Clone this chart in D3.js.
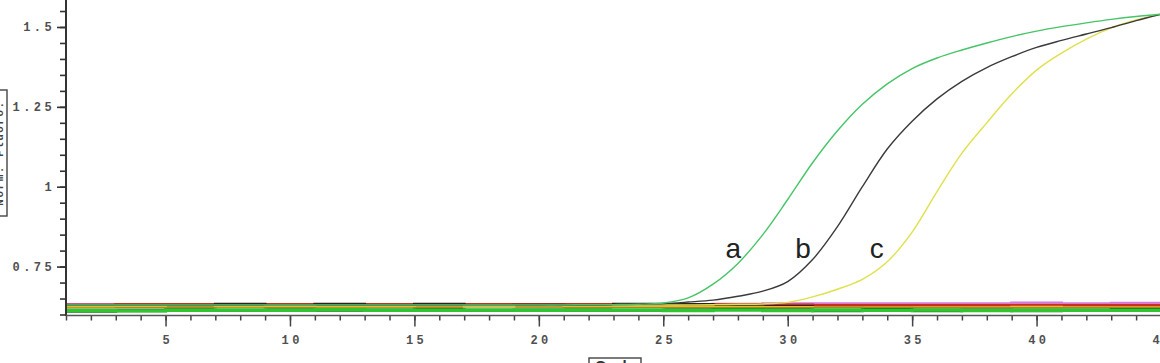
<!DOCTYPE html>
<html>
<head>
<meta charset="utf-8">
<script src="https://cdn.jsdelivr.net/npm/d3@7"></script>
<style>
  html, body { margin: 0; padding: 0; background: #fff; overflow: hidden; }
  svg { display: block; }
</style>
</head>
<body>
<svg id="chart" width="1160" height="363"></svg>
<script>
// ---- Data ----
const cycles = [1,2,3,4,5,6,7,8,9,10,11,12,13,14,15,16,17,18,19,20,21,22,23,24,25,26,27,28,29,30,31,32,33,34,35,36,37,38,39,40,41,42,43,44,45];

// amplification curves (normalised fluorescence per cycle)
const curveA = [0.630,0.630,0.630,0.630,0.630,0.630,0.630,0.630,0.630,0.630,0.630,0.630,0.630,0.630,0.630,0.630,0.630,0.630,0.630,0.630,0.630,0.631,0.631,0.632,0.636,0.652,0.695,0.760,0.850,0.960,1.075,1.175,1.258,1.322,1.370,1.403,1.428,1.450,1.470,1.487,1.501,1.513,1.524,1.533,1.540];
const curveB = [0.630,0.630,0.630,0.630,0.630,0.630,0.630,0.630,0.630,0.630,0.630,0.630,0.630,0.630,0.630,0.630,0.630,0.630,0.630,0.630,0.630,0.630,0.631,0.632,0.634,0.639,0.645,0.657,0.673,0.703,0.772,0.875,1.000,1.118,1.205,1.275,1.330,1.373,1.407,1.436,1.458,1.478,1.498,1.520,1.540];
const curveC = [0.630,0.630,0.630,0.630,0.630,0.630,0.630,0.630,0.630,0.630,0.630,0.630,0.630,0.630,0.630,0.630,0.630,0.630,0.630,0.630,0.630,0.630,0.630,0.630,0.630,0.630,0.631,0.632,0.633,0.638,0.655,0.679,0.710,0.765,0.858,0.985,1.105,1.200,1.290,1.365,1.418,1.462,1.497,1.522,1.540];

// flat (negative / no-template) traces, read at every second cycle
const baseCycles = [1,3,5,7,9,11,13,15,17,19,21,23,25,27,29,31,33,35,37,39,41,43,45];
const basePink   = [0.631,0.629,0.628,0.628,0.627,0.628,0.628,0.627,0.628,0.628,0.628,0.629,0.630,0.632,0.634,0.634,0.634,0.634,0.634,0.636,0.634,0.635,0.634];
const baseRed    = [0.630,0.631,0.631,0.628,0.631,0.628,0.631,0.628,0.631,0.631,0.631,0.628,0.631,0.631,0.630,0.628,0.628,0.628,0.628,0.628,0.628,0.628,0.628];
const baseDark   = [0.626,0.627,0.628,0.632,0.628,0.632,0.628,0.632,0.628,0.629,0.628,0.632,0.631,0.627,0.625,0.622,0.620,0.619,0.619,0.619,0.617,0.617,0.617];
const baseYellow = [0.622,0.623,0.621,0.622,0.625,0.622,0.622,0.621,0.624,0.621,0.623,0.624,0.624,0.623,0.622,0.621,0.621,0.621,0.621,0.623,0.621,0.621,0.621];
const baseOlive  = [0.618,0.619,0.619,0.618,0.619,0.618,0.618,0.619,0.618,0.618,0.619,0.619,0.619,0.619,0.619,0.619,0.619,0.619,0.619,0.619,0.619,0.619,0.619];
const baseCyan   = [0.615,0.615,0.614,0.616,0.615,0.614,0.616,0.615,0.618,0.616,0.614,0.616,0.615,0.614,0.614,0.615,0.616,0.614,0.614,0.614,0.615,0.614,0.614];
const baseDkGrn  = [0.610,0.612,0.614,0.613,0.614,0.613,0.614,0.615,0.613,0.614,0.613,0.613,0.614,0.616,0.614,0.612,0.616,0.612,0.613,0.612,0.613,0.616,0.616];
const baseGreen  = [0.612,0.611,0.613,0.614,0.613,0.615,0.613,0.613,0.614,0.613,0.614,0.614,0.612,0.614,0.612,0.614,0.613,0.614,0.612,0.613,0.613,0.613,0.613];

const xMajorTicks = [5,10,15,20,25,30,35,40,45];
const yMajorTicks = [0.75,1,1.25,1.5];
const yMinorTicks = [0.6,0.65,0.7,0.75,0.8,0.85,0.9,0.95,1,1.05,1.1,1.15,1.2,1.25,1.3,1.35,1.4,1.45,1.5,1.55];

const curveLabels = ["a","b","c"];
const labelCycles = [27.5,30.3,33.3];
const labelValues = [0.776,0.776,0.776];

const xTitle = "Cycle";
const yTitle = "Norm. Fluoro.";

// ---- Chart ----
const svg = d3.select("#chart");
const x = d3.scaleLinear().domain([1,45]).range([66,1161]);
const y = d3.scaleLinear().domain([0.6,1.5845]).range([314.5,0]);

const plot = svg.append("g");

const baseSeries = [
  {v: basePink,   c: "#d67ad6", w: 3},
  {v: baseRed,    c: "#c8301c", w: 3},
  {v: baseDark,   c: "#2c2418", w: 3},
  {v: baseYellow, c: "#e8b830", w: 3},
  {v: baseOlive,  c: "#85802a", w: 2.6},
  {v: baseCyan,   c: "#b4eedc", w: 2.6},
  {v: baseDkGrn,  c: "#1f6c1f", w: 3},
  {v: baseGreen,  c: "#2fc62f", w: 3.2}
];
const stepLine = d3.line().x((d,i)=>x(baseCycles[i])).y(d=>y(d)).curve(d3.curveStepAfter);
baseSeries.forEach(s => {
  plot.append("path").attr("d", stepLine(s.v))
    .attr("fill","none").attr("stroke", s.c).attr("stroke-width", s.w);
});

const ampLine = d3.line().x((d,i)=>x(cycles[i])).y(d=>y(d)).curve(d3.curveCatmullRom.alpha(0.5));
[{v: curveC, c: "#e0e04c"}, {v: curveB, c: "#3a3a3a"}, {v: curveA, c: "#46c467"}].forEach(s => {
  plot.append("path").attr("d", ampLine(s.v))
    .attr("fill","none").attr("stroke", s.c).attr("stroke-width", 1.4);
});

// annotations
curveLabels.forEach((t,i) => {
  svg.append("text").attr("x", x(labelCycles[i])).attr("y", y(labelValues[i]))
    .attr("font-family","Liberation Sans, Arial, sans-serif").attr("font-size", 28)
    .attr("fill","#222").text(t);
});

// axes
const tickFont = "Liberation Mono, DejaVu Sans Mono, monospace";

const yMinor = svg.append("g").attr("transform","translate(66,0)")
  .call(d3.axisLeft(y).tickValues(yMinorTicks).tickSize(6).tickFormat(""));
const yMajor = svg.append("g").attr("transform","translate(66,0)")
  .call(d3.axisLeft(y).tickValues(yMajorTicks).tickSize(9).tickPadding(2).tickFormat(d3.format("")));
[yMinor, yMajor].forEach(g => {
  g.select(".domain").remove();
  g.selectAll(".tick line").attr("stroke","#333").attr("stroke-width",1.6);
});
yMajor.selectAll(".tick text").attr("font-family", tickFont).attr("font-size", 12)
  .attr("fill","#505050").attr("font-weight","bold").style("letter-spacing","3.4px");
svg.append("line").attr("x1",66).attr("x2",66).attr("y1",0).attr("y2",316)
  .attr("stroke","#333").attr("stroke-width",2);

const xMinor = svg.append("g").attr("transform","translate(0,315.5)")
  .call(d3.axisBottom(x).tickValues(cycles).tickSize(5).tickFormat(""));
const xMajor = svg.append("g").attr("transform","translate(0,315.5)")
  .call(d3.axisBottom(x).tickValues(xMajorTicks).tickSize(11).tickPadding(9).tickFormat(d3.format("d")));
[xMinor, xMajor].forEach(g => {
  g.select(".domain").remove();
  g.selectAll(".tick line").attr("stroke","#444").attr("stroke-width",1.5);
});
xMajor.selectAll(".tick text").attr("font-family", tickFont).attr("font-size", 12)
  .attr("fill","#505050").attr("font-weight","bold").style("letter-spacing","3.4px").attr("dx", 1.7);
svg.append("line").attr("x1",66).attr("x2",1160).attr("y1",315.5).attr("y2",315.5)
  .attr("stroke","#555").attr("stroke-width",1.4);

// axis titles (boxed, partly cut off at the edges like the original)
const yt = svg.append("g").attr("transform","translate(-1,153)");
yt.append("rect").attr("x",-63).attr("y",-8).attr("width",126).attr("height",16)
  .attr("transform","rotate(-90)").attr("fill","#fff").attr("stroke","#444").attr("stroke-width",1.4);
yt.append("text").attr("transform","rotate(-90)").attr("text-anchor","middle").attr("y",4)
  .attr("font-family", tickFont).attr("font-size",11).attr("font-weight","bold").attr("fill","#444")
  .style("letter-spacing","1.5px").text(yTitle);

const xt = svg.append("g").attr("transform","translate(615,358)");
xt.append("rect").attr("x",-26).attr("y",0).attr("width",52).attr("height",18)
  .attr("fill","#fff").attr("stroke","#444").attr("stroke-width",1.4);
xt.append("text").attr("text-anchor","middle").attr("y",13)
  .attr("font-family","Liberation Sans, Arial, sans-serif").attr("font-size",15).attr("font-weight","bold")
  .attr("fill","#333").text(xTitle);
</script>
</body>
</html>
